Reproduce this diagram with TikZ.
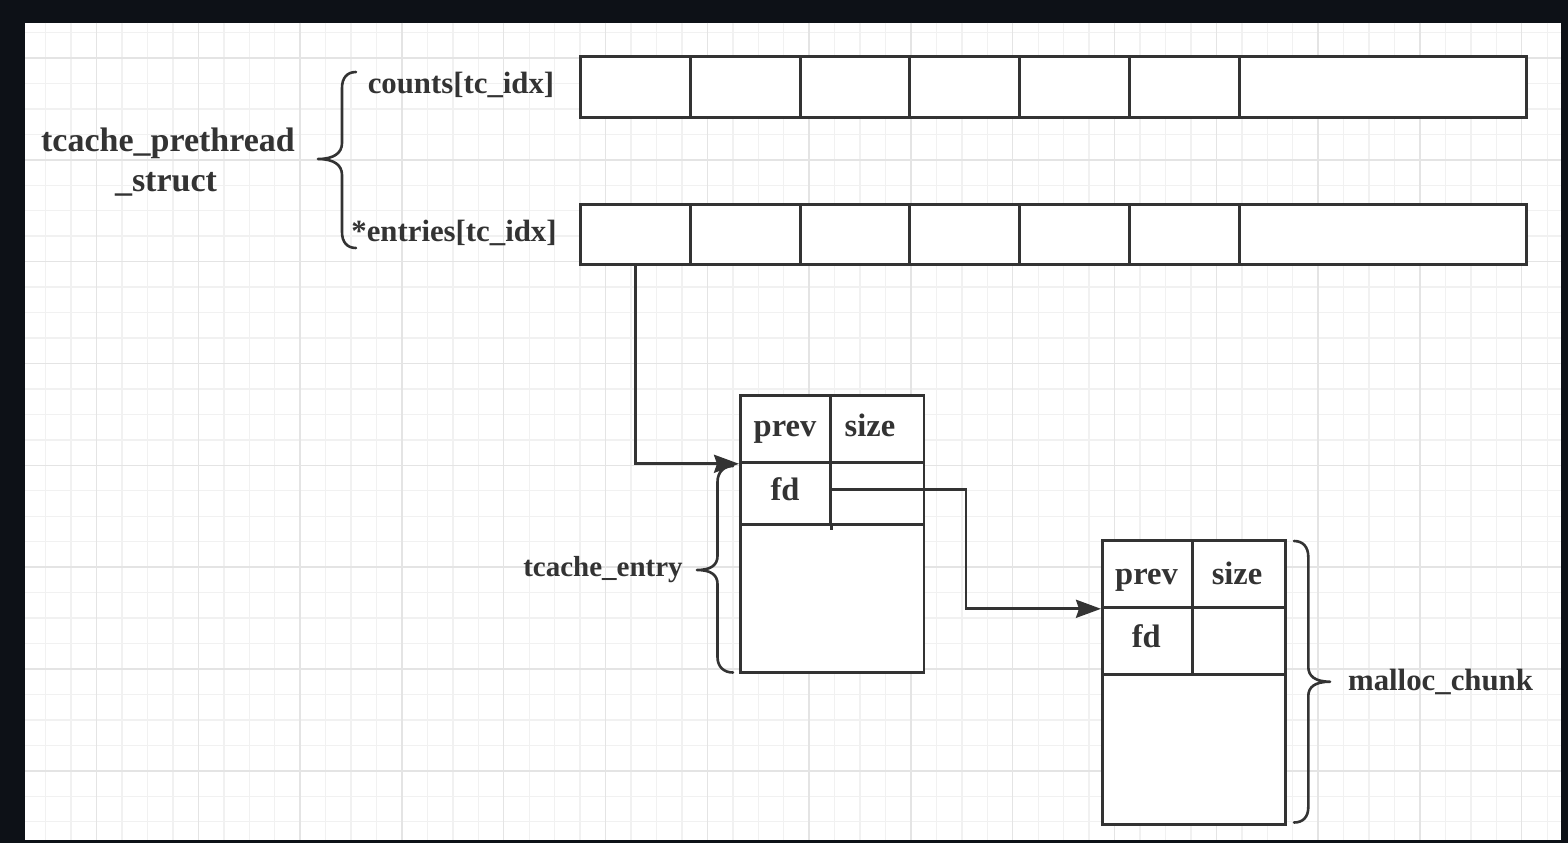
\documentclass[tikz,border=0pt]{standalone}
\usepackage{fontspec}
\setmainfont{Liberation Serif}
\usetikzlibrary{arrows.meta}
\definecolor{bgdark}{HTML}{0D1117}
\definecolor{gridminor}{HTML}{F1F1F1}
\definecolor{gridmajor}{HTML}{E4E4E4}
\definecolor{ink}{HTML}{333333}
\definecolor{txt}{HTML}{333333}
\begin{document}
\begin{tikzpicture}[x=1pt,y=-1pt,
  cell/.style={draw=ink,line width=2.8pt,inner sep=0pt,anchor=north west,fill=white},
  lbl/.style={anchor=base,inner sep=0pt,text=txt,font=\bfseries\fontsize{30.8}{36}\selectfont},
  biglbl/.style={lbl,font=\bfseries\fontsize{34}{40}\selectfont},
  midlbl/.style={lbl,font=\bfseries\fontsize{29}{34}\selectfont},
  celllbl/.style={lbl,font=\bfseries\fontsize{32.5}{38}\selectfont},
  conn/.style={draw=ink,line width=2.8pt,-{Stealth[length=25pt 0,width=18pt 0,inset=3pt]}},
  bracepath/.style={draw=ink,line width=2.6pt,line cap=round,line join=round},
  gminor/.style={draw=gridminor,line width=1.4pt},
  gmajor/.style={draw=gridmajor,line width=1.4pt}]
\useasboundingbox (0,0) rectangle (1568,843);
\fill[bgdark] (0,0) rectangle (1568,843);
\fill[white] (25,23) rectangle (1561,840);
\begin{scope}
\clip (25,23) rectangle (1561,840);
\foreach \k in {1,...,60} {\draw[gminor] ({20.2+25.45*\k},23) -- ({20.2+25.45*\k},840);}
\foreach \j in {0,...,31} {\draw[gminor] (25,{32.5+25.46*\j}) -- (1561,{32.5+25.46*\j});}
\foreach \k in {3,7,...,59} {\draw[gmajor] ({20.2+25.45*\k},23) -- ({20.2+25.45*\k},840);}
\foreach \j in {1,5,...,29} {\draw[gmajor] (25,{32.5+25.46*\j}) -- (1561,{32.5+25.46*\j});}
\end{scope}

% arrays
\foreach \i/\xx/\ww in {1/579/110,2/689/110,3/799/109,4/908/110,5/1018/110,6/1128/110,7/1238/287} {
  \node[cell,minimum width=\ww pt,minimum height=61pt] (c\i) at (\xx,55) {};
  \node[cell,minimum width=\ww pt,minimum height=60pt] (e\i) at (\xx,203) {};
}

% tcache_entry box
\node[cell,minimum width=183.5pt,minimum height=148pt] (teBody) at (739,523) {};
\node[cell,minimum width=90pt,minimum height=67pt] (tePrev) at (739,394) {};
\node[cell,minimum width=93.5pt,minimum height=67pt] (teSize) at (829,394) {};
\node[cell,minimum width=90pt,minimum height=62pt] (teFd) at (739,461) {};
\node[cell,minimum width=93.5pt,minimum height=62pt] (teFdR) at (829,461) {};
\draw[draw=ink,line width=2.8pt] (teFd.south east) -- ++(0,4);

% malloc_chunk box
\node[cell,minimum width=183pt,minimum height=150pt] (mcBody) at (1101,673) {};
\node[cell,minimum width=90pt,minimum height=67pt] (mcPrev) at (1101,539) {};
\node[cell,minimum width=93pt,minimum height=67pt] (mcSize) at (1191,539) {};
\node[cell,minimum width=90pt,minimum height=67pt] (mcFd) at (1101,606) {};
\node[cell,minimum width=93pt,minimum height=67pt] (mcFdR) at (1191,606) {};

% labels
\node[biglbl] (psA) at (168,151.7) {tcache\_prethread};
\node[biglbl] (psB) at (166,191.7) {\_struct};
\node[lbl] (cnt) at (461,93) {counts[tc\_idx]};
\node[lbl] (ent) at (454,241.7) {*entries[tc\_idx]};
\node[midlbl] (teLbl) at (603,576) {tcache\_entry};
\node[lbl] (mcLbl) at (1440.5,690.7) {malloc\_chunk};
\node[celllbl] (tPrevT) at (785,436.7) {prev};
\node[celllbl] (tSizeT) at (870,436.7) {size};
\node[celllbl] (tFdT) at (785,500) {fd};
\node[celllbl] (mPrevT) at (1146.5,584) {prev};
\node[celllbl] (mSizeT) at (1237,584) {size};
\node[celllbl] (mFdT) at (1146.3,647.7) {fd};

% braces
\draw[bracepath] (356,72) .. controls (347,72) and (342,78) .. (342,88) -- (342,143)
  .. controls (342,153) and (334,159) .. (318,159)
  .. controls (334,159) and (342,165) .. (342,175) -- (342,232)
  .. controls (342,242) and (347,248) .. (356,248);
\draw[bracepath] (733,466) .. controls (724,466) and (717.5,472) .. (717.5,482) -- (717.5,556)
  .. controls (717.5,565) and (711,570) .. (697,570)
  .. controls (711,570) and (717.5,575) .. (717.5,584) -- (717.5,657)
  .. controls (717.5,667) and (724,672.5) .. (733,672.5);
\draw[bracepath] (1294,541) .. controls (1303,541) and (1308.3,547) .. (1308.3,557) -- (1308.3,667)
  .. controls (1308.3,676) and (1315,681.7) .. (1330,681.7)
  .. controls (1315,681.7) and (1308.3,687) .. (1308.3,696) -- (1308.3,807)
  .. controls (1308.3,817) and (1303,822.5) .. (1294,822.5);

% connectors
\draw[conn] (e1.south) |- (tePrev.south west);
\draw[conn] ([yshift=4pt]teFd.east) -| ([xshift=-135pt]mcPrev.south west) |- (mcPrev.south west);
\end{tikzpicture}
\end{document}
